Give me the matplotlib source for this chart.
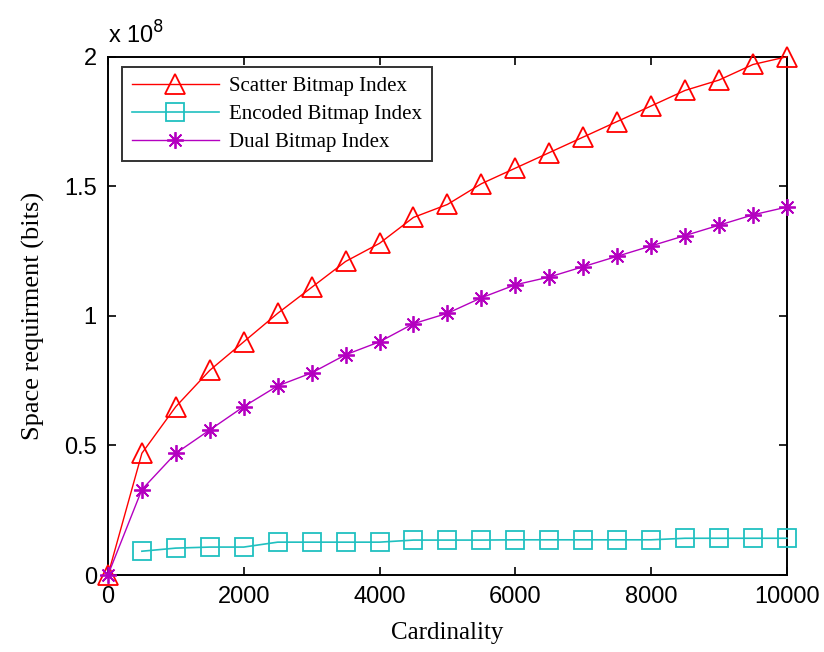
import matplotlib.pyplot as plt
from matplotlib.ticker import FuncFormatter

# Cardinality values
card = [0, 500, 1000, 1500, 2000, 2500, 3000, 3500, 4000, 4500, 5000,
        5500, 6000, 6500, 7000, 7500, 8000, 8500, 9000, 9500, 10000]

# Space requirement in units of 1e8 bits
scatter = [0, 0.47, 0.65, 0.79, 0.90, 1.01, 1.11, 1.21, 1.28, 1.38, 1.43,
           1.51, 1.57, 1.63, 1.69, 1.75, 1.81, 1.87, 1.91, 1.97, 2.00]
dual = [0, 0.33, 0.47, 0.56, 0.65, 0.73, 0.78, 0.85, 0.90, 0.97, 1.01,
        1.07, 1.12, 1.15, 1.19, 1.23, 1.27, 1.31, 1.35, 1.39, 1.42]
enc_card = card[1:]
encoded = [0.092, 0.104, 0.108, 0.108, 0.127, 0.127, 0.127, 0.127, 0.135, 0.135,
           0.135, 0.136, 0.136, 0.136, 0.136, 0.136, 0.142, 0.142, 0.142, 0.142]

xticks = [0, 2000, 4000, 6000, 8000, 10000]
yticks = [0, 0.5, 1, 1.5, 2]

fig = plt.figure(figsize=(8.24, 6.52), dpi=100)
ax = fig.add_axes([0.131, 0.118, 0.824, 0.795])

ax.plot(card, scatter, color='#ff0000', lw=1.0, marker='^', ms=14,
        mfc='none', mew=1.3, label='Scatter Bitmap Index', clip_on=False, zorder=3)
ax.plot(enc_card, encoded, color='#20c0c0', lw=1.2, marker='s', ms=13,
        mfc='none', mew=1.3, label='Encoded Bitmap Index', clip_on=False, zorder=3)
ax.plot(card, dual, color='#b400c0', lw=1.0, marker=(8, 2, 0), ms=12,
        mew=1.3, label='Dual Bitmap Index', clip_on=False, zorder=3)

ax.set_xlim(0, 10000)
ax.set_ylim(0, 2)
ax.set_xticks(xticks)
ax.set_yticks(yticks)
ax.yaxis.set_major_formatter(FuncFormatter(lambda v, p: f'{v:g}'))
ax.tick_params(direction='in', length=6, width=1.2, top=True, right=True,
               labelsize=17, pad=8)
for lab in ax.get_xticklabels() + ax.get_yticklabels():
    lab.set_family('Liberation Sans')
for s in ax.spines.values():
    s.set_linewidth(1.4)

ax.set_xlabel('Cardinality', family='Liberation Serif', fontsize=18, labelpad=10)
ax.set_ylabel('Space requirment (bits)', family='Liberation Serif', fontsize=19, labelpad=14)

fig.text(0.131, 0.925, r'x 10$^{8}$', family='Liberation Sans', fontsize=17,
         ha='left', va='bottom')

leg = ax.legend(loc='upper left', bbox_to_anchor=(0.021, 0.98), borderaxespad=0,
                frameon=True, fancybox=False, edgecolor='black', handlelength=4.2,
                handletextpad=0.5, prop={'family': 'Liberation Serif', 'size': 15},
                borderpad=0.45, labelspacing=0.4)
leg.get_frame().set_linewidth(1.4)

fig.savefig('out.png', dpi=100)
